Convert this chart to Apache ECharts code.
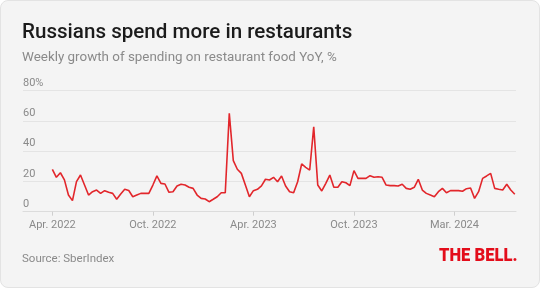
<!DOCTYPE html>
<html>
<head>
<meta charset="utf-8">
<script src="https://cdn.jsdelivr.net/npm/echarts@6/dist/echarts.min.js"></script>
<style>
  html, body { margin: 0; padding: 0; background: #ffffff; }
  #card { position: absolute; left: 0; top: 0; width: 540px; height: 288px; box-sizing: border-box;
          background: #f4f4f4; border: 1px solid #e3e3e3; border-radius: 8px; }
  #chart { position: absolute; left: 0; top: 0; width: 540px; height: 288px; }
</style>
</head>
<body>
<div id="card"></div>
<div id="chart"></div>
<script>
// Weekly growth of spending on restaurant food YoY, % (weeks from Apr. 2022)
const growth = [
  28, 22.7, 25.7, 21, 11, 7.3, 19.8, 24.2, 17.6, 11,
  13.2, 14.3, 12.1, 13.9, 12.8, 12.1, 8.2, 11.7, 14.8, 14,
  9.9, 11, 12.1, 12.1, 12.1, 17.6, 23.6, 18.7, 18.3, 12.8,
  13.2, 17, 18.1, 17.6, 16.1, 15.4, 11, 8.8, 8.4, 6.6,
  8.2, 9.9, 12.5, 12.5, 65, 33.7, 28, 25.3, 17.6, 9.9,
  13.9, 14.8, 17, 21.4, 20.9, 22.7, 19.8, 23.6, 17, 13.2,
  12.5, 19.8, 31.5, 29.3, 27.5, 56, 17.6, 13.7, 18.7, 24.2,
  16.1, 16.1, 19.8, 19.1, 17.2, 27.1, 22, 22, 22, 23.8,
  22.7, 23.1, 22.7, 17.6, 17.2, 17.2, 17, 18.1, 15.4, 14.8,
  16.1, 21.4, 14.3, 12.1, 11, 9.9, 13.2, 15.4, 12.5, 13.9,
  13.9, 13.9, 13.5, 15.2, 15.6, 8.8, 13.2, 22, 23.6, 25.3,
  15.4, 14.8, 14.3, 18.1, 14.3, 11.5
];
// x-axis tick labels and the week index at which each sits
const tickLabels = ['Apr. 2022', 'Oct. 2022', 'Apr. 2023', 'Oct. 2023', 'Mar. 2024'];
const tickWeeks = [0, 25, 50, 75, 100];
// y-axis ticks
const yTicks = [0, 20, 40, 60, 80];

const seriesData = growth.map((v, i) => [i, v]);

const chart = echarts.init(document.getElementById('chart'), null, { renderer: 'canvas' });
chart.setOption({
  backgroundColor: 'transparent',
  animation: false,
  textStyle: { fontFamily: 'Roboto' },
  grid: { left: 23, right: 24, top: 90.5, bottom: 76.3, containLabel: false },
  xAxis: {
    type: 'value',
    min: -7.3,
    max: 115.3,
    splitLine: { show: false },
    axisLine: { show: true, lineStyle: { color: '#dcdcdc', width: 1 } },
    axisTick: { show: true, customValues: tickWeeks, length: 4, lineStyle: { color: '#cfcfcf' } },
    axisLabel: {
      customValues: tickWeeks,
      formatter: (v) => tickLabels[tickWeeks.indexOf(Math.round(v))] || '',
      color: '#8a8a8a', fontSize: 11, margin: 8, fontFamily: 'Roboto'
    }
  },
  yAxis: {
    type: 'value',
    min: 0, max: 80, interval: 20,
    axisLine: { show: false },
    axisTick: { show: false },
    splitLine: { show: true, lineStyle: { color: '#e4e4e4', width: 1 } },
    axisLabel: {
      inside: true,
      margin: 0,
      verticalAlign: 'bottom',
      padding: [0, 0, 2, 0],
      color: '#8a8a8a', fontSize: 11, fontFamily: 'Roboto',
      formatter: (v) => (v === yTicks[yTicks.length - 1] ? v + '%' : String(v))
    }
  },
  series: [{
    type: 'line',
    data: seriesData,
    showSymbol: false,
    lineStyle: { color: '#e2262b', width: 1.6 },
    z: 3
  }],
  graphic: [
    { type: 'text', left: 22, top: 22, style: { text: 'Russians spend more in restaurants',
      font: '500 20.6px Roboto', fill: '#1b1b1b' } },
    { type: 'text', left: 22, top: 51.5, style: { text: 'Weekly growth of spending on restaurant food YoY, %',
      font: '400 13.4px Roboto', fill: '#8a8a8a' } },
    { type: 'text', left: 22, top: 253.5, style: { text: 'Source: SberIndex',
      font: '400 11.5px Roboto', fill: '#8a8a8a' } },
    { type: 'text', x: 439, y: 256.5, scaleX: 0.92, originX: 0, originY: 0,
      style: { text: 'THE BELL.', font: '900 18px Roboto', fill: '#e30d1b',
               align: 'left', verticalAlign: 'middle' } }
  ]
});
</script>
</body>
</html>
